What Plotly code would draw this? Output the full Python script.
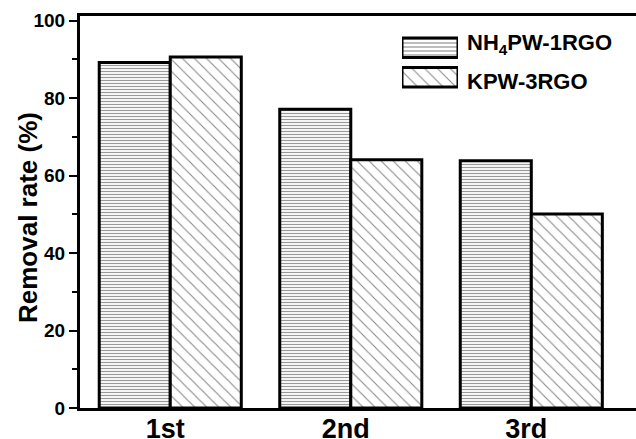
import plotly.graph_objects as go

categories = ["1st", "2nd", "3rd"]
series_names = ["NH<sub>4</sub>PW-1RGO", "KPW-3RGO"]
nh4pw_values = [89.2, 77.1, 63.8]
kpw_values = [90.6, 64.1, 50.1]
y_ticks = [0, 20, 40, 60, 80, 100]
y_title = "Removal rate (%)"

FONT = "Liberation Sans"
W, H = 636, 439
L, R, T, B = 80, 0, 16, 31
pw, ph = W - L - R, H - T - B

fig = go.Figure()

fig.add_trace(go.Bar(
    x=categories, y=nh4pw_values, name=series_names[0],
    marker=dict(color="white",
                line=dict(color="black", width=3),
                pattern=dict(shape="-", size=3, solidity=0.4, fgcolor="#333", bgcolor="white")),
    showlegend=False,
))
fig.add_trace(go.Bar(
    x=categories, y=kpw_values, name=series_names[1],
    marker=dict(color="white",
                line=dict(color="black", width=3),
                pattern=dict(shape="\\", size=8.5, solidity=0.13, fgcolor="#111", bgcolor="white")),
    showlegend=False,
))

# legend swatches on an inset axis
def px_x(p):
    return (p - L) / pw

def px_y(p):
    return (H - B - p) / ph

fig.add_trace(go.Bar(
    x=[1, 1], y=["a", "b"], orientation="h", xaxis="x2", yaxis="y2",
    width=0.66, showlegend=False, hoverinfo="skip",
    marker=dict(color="white",
                line=dict(color="black", width=3),
                pattern=dict(shape=["-", "\\"], size=[4, 9], solidity=[0.3, 0.13],
                             fgcolor="#222", bgcolor="white")),
))

fig.update_layout(
    width=W, height=H,
    margin=dict(l=L, r=R, t=T, b=B, autoexpand=False),
    paper_bgcolor="white", plot_bgcolor="white",
    barmode="group", bargap=0.213, bargroupgap=0,
    font=dict(family=FONT, color="black"),
    xaxis=dict(
        type="category", categoryarray=categories, range=[-0.5, 2.58],
        showline=True, linewidth=3, linecolor="black", mirror=True,
        ticks="", showgrid=False, zeroline=False, automargin=False,
        ticklabelshift=-5, ticklabelstandoff=-5,
        tickfont=dict(family=FONT, size=27, weight="bold"),
    ),
    yaxis=dict(
        range=[0, 101.2], tickvals=y_ticks,
        showline=True, linewidth=3, linecolor="black",
        ticks="outside", ticklen=8, tickwidth=2, tickcolor="black",
        minor=dict(dtick=10, ticks="outside", ticklen=5, tickwidth=2, tickcolor="black"),
        showgrid=False, zeroline=False, automargin=False,
        tickfont=dict(family=FONT, size=19, weight="bold"),
    ),
    xaxis2=dict(domain=[px_x(402), px_x(458)], range=[0, 1], anchor="y2",
                visible=False, fixedrange=True),
    yaxis2=dict(domain=[px_y(92), px_y(33)], type="category", categoryarray=["b", "a"],
                anchor="x2", visible=False, fixedrange=True),
    annotations=[
        dict(text=y_title, x=px_x(28.5), y=px_y(217.5), xref="paper", yref="paper",
             xanchor="center", yanchor="middle", textangle=-90, showarrow=False,
             font=dict(family=FONT, size=26, weight="bold")),
        dict(text=series_names[0], x=px_x(465), y=px_y(44), xref="paper", yref="paper",
             xanchor="left", yanchor="middle", showarrow=False,
             font=dict(family=FONT, size=22, weight="bold")),
        dict(text=series_names[1], x=px_x(465), y=px_y(81), xref="paper", yref="paper",
             xanchor="left", yanchor="middle", showarrow=False,
             font=dict(family=FONT, size=22, weight="bold")),
    ],
)

fig.write_html(
    "out.html",
    config={"displayModeBar": False},
    post_script="document.body.style.margin='0';document.body.style.overflow='hidden';",
)
